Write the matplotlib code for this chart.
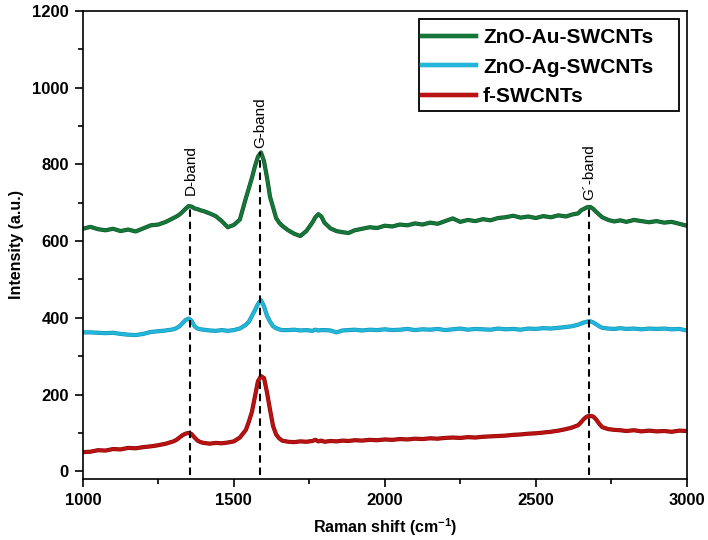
import matplotlib
matplotlib.use("Agg")
import matplotlib.pyplot as plt
import matplotlib.patheffects as pe
from matplotlib.patches import Rectangle
from matplotlib.ticker import MultipleLocator

plt.rcParams['font.family'] = ['Liberation Sans', 'DejaVu Sans']
plt.rcParams['mathtext.default'] = 'regular'

# ---------------- data ----------------
raman_shift = [1000, 1025, 1050, 1075, 1100, 1125, 1150, 1175, 1200, 1225, 1250, 1275, 1300,
               1310, 1320, 1330, 1340, 1350, 1360, 1370, 1380, 1390, 1400, 1410, 1420,
               1440, 1460, 1480, 1500, 1520, 1540,
               1550, 1560, 1570, 1580, 1590, 1600, 1610, 1620, 1630, 1640, 1650, 1660,
               1680, 1700, 1720, 1740, 1760, 1770, 1780, 1790, 1800, 1820, 1840, 1860, 1880, 1900,
               1925, 1950, 1975, 2000, 2025, 2050, 2075, 2100, 2125, 2150, 2175, 2200, 2225, 2250,
               2275, 2300, 2325, 2350, 2375, 2400, 2425, 2450, 2475, 2500, 2525, 2550, 2575, 2600,
               2620, 2640, 2650, 2660, 2670, 2680, 2690, 2700, 2710, 2720, 2740, 2760,
               2780, 2800, 2825, 2850, 2875, 2900, 2925, 2950, 2975, 3000]

zno_au = [632, 637, 631, 628, 632, 626, 630, 625, 633, 641, 643, 650, 660,
          664, 669, 676, 684, 691, 690, 685, 683, 680, 678, 675, 672,
          665, 652, 636, 642, 656, 712,
          738, 765, 795, 820, 831, 808, 765, 715, 688, 660, 648, 640,
          628, 619, 613, 626, 648, 662, 670, 664, 648, 633, 626, 623, 621, 628,
          632, 636, 634, 640, 638, 643, 641, 646, 643, 648, 645, 652, 659, 650,
          655, 652, 657, 654, 660, 662, 666, 661, 664, 660, 665, 662, 667, 664,
          669, 672, 680, 684, 688, 689, 684, 676, 669, 662, 655, 651,
          654, 650, 655, 652, 649, 652, 648, 650, 645, 640]

zno_ag = [362, 362, 361, 360, 361, 358, 356, 355, 358, 363, 365, 367, 370,
          373, 378, 386, 394, 398, 392, 378, 372, 370, 369, 368, 367,
          366, 368, 366, 368, 372, 382,
          390, 405, 420, 436, 446, 430, 405, 390, 378, 373, 370, 368,
          368, 369, 367, 368, 366, 369, 367, 368, 368, 367, 362, 367, 368, 369,
          367, 369, 368, 370, 368, 369, 371, 368, 370, 369, 371, 368, 370, 372,
          369, 371, 370, 369, 372, 370, 371, 369, 372, 371, 373, 372, 374, 376,
          378, 382, 385, 388, 390, 391, 388, 383, 378, 374, 372, 371,
          373, 371, 372, 370, 372, 371, 372, 370, 371, 367]

f_swcnts = [50, 51, 55, 54, 58, 57, 61, 60, 63, 65, 68, 72, 78,
            82, 88, 94, 98, 100, 97, 88, 80, 76, 74, 73, 72,
            74, 73, 75, 78, 88, 108,
            130, 155, 195, 235, 248, 243, 205, 160, 118, 96, 86, 80,
            77, 76, 78, 77, 79, 82, 78, 80, 77, 79, 78, 80, 79, 81,
            80, 82, 81, 83, 82, 84, 83, 85, 84, 86, 85, 87, 88, 87,
            89, 88, 90, 91, 92, 93, 95, 96, 98, 99, 101, 103, 106, 110,
            114, 120, 128, 137, 143, 144, 143, 135, 124, 115, 110, 108,
            107, 105, 107, 104, 106, 104, 105, 103, 106, 105]

series_names = ['ZnO-Au-SWCNTs', 'ZnO-Ag-SWCNTs', 'f-SWCNTs']
series_colors = ['#17763a', '#22b6da', '#b81212']
series_edges = ['#0b5223', '#1390b0', '#8a0606']

band_positions = [1356, 1586, 2677]
band_tops = [693, 832, 689]
band_labels = ['D-band', 'G-band', 'G\u00b4-band']
band_label_y = [721, 843, 706]

# ---------------- plot ----------------
fig = plt.figure(figsize=(7.08, 5.40), dpi=100)
ax = fig.add_axes([0.117, 0.113, 0.853, 0.867])

for yv, name, c, ec in zip([zno_au, zno_ag, f_swcnts], series_names, series_colors, series_edges):
    ax.plot(raman_shift, yv, color=c, lw=2.2, label=name, solid_joinstyle='round',
            path_effects=[pe.Stroke(linewidth=3.0, foreground=ec), pe.Normal()])

for bx, bt, bl, by in zip(band_positions, band_tops, band_labels, band_label_y):
    ln, = ax.plot([bx, bx], [-10, bt], color='black', lw=1.5, linestyle='--')
    ln.set_dashes((3.6, 2.3))
    ax.text(bx, by, bl, rotation=90, ha='center', va='bottom', fontsize=11)

ax.set_xlim(1000, 3000)
ax.set_ylim(-20, 1200)
ax.xaxis.set_major_locator(MultipleLocator(500))
ax.xaxis.set_minor_locator(MultipleLocator(250))
ax.yaxis.set_major_locator(MultipleLocator(200))
ax.yaxis.set_minor_locator(MultipleLocator(100))

ax.tick_params(which='both', direction='out', top=False, right=False, width=1.2)
ax.tick_params(which='major', length=6, labelsize=12, pad=4)
ax.tick_params(which='minor', length=3.5)
for lab in ax.get_xticklabels() + ax.get_yticklabels():
    lab.set_fontweight('bold')
for s in ax.spines.values():
    s.set_linewidth(1.2)

ax.set_xlabel('Raman shift (cm$^{-1}$)', fontsize=11.5, fontweight='bold', labelpad=6)
ax.set_ylabel('Intensity (a.u.)', fontsize=11.5, fontweight='bold', labelpad=6)

# legend frame (drawn separately to match the reference's padding)
ax.add_patch(Rectangle((0.556, 0.786), 0.431, 0.197, transform=ax.transAxes,
                       facecolor='white', edgecolor='black', lw=1.3, zorder=4))
leg = ax.legend(loc='upper left', bbox_to_anchor=(0.561, 0.963), borderaxespad=0,
                frameon=False,
                prop={'family': 'Liberation Sans', 'weight': 'bold', 'size': 15},
                handlelength=2.6, handletextpad=0.35, labelspacing=0.5, borderpad=0)
leg.set_zorder(5)
for h in leg.get_lines():
    h.set_linewidth(3.2)

fig.savefig('out.png', dpi=100)
